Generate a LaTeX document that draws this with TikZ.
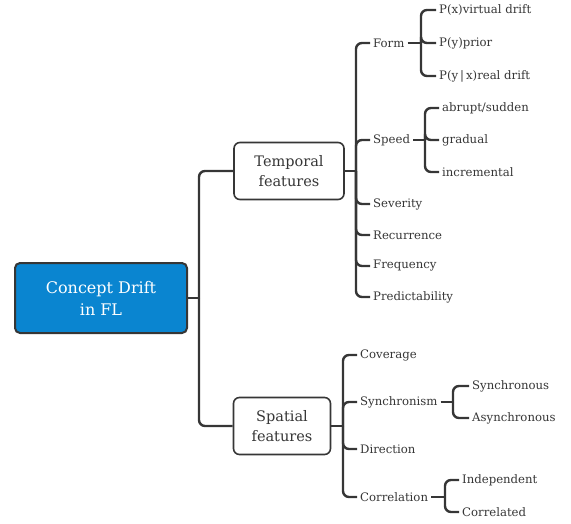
\documentclass[tikz,border=0pt]{standalone}
\usepackage{fontspec}
\setmainfont{DejaVu Serif}
\definecolor{linec}{HTML}{363636}
\definecolor{rootblue}{HTML}{0A85D0}
\tikzset{
  conn/.style={draw=linec, line width=2.4pt, rounded corners=6pt},
  rootbox/.style={draw=linec, line width=2pt, fill=rootblue, rounded corners=5pt, minimum width=172pt, minimum height=70pt, align=center, text=white, font=\fontsize{16}{22}\selectfont},
  subbox/.style={draw=linec, line width=1.6pt, fill=white, rounded corners=6pt, minimum height=57pt, align=center, text=linec, font=\fontsize{14.5}{20}\selectfont},
  leaf/.style={anchor=west, inner sep=3pt, text=linec, font=\fontsize{11.7}{13}\selectfont},
}
\begin{document}
\begin{tikzpicture}[x=1pt,y=-1pt]
\useasboundingbox (0,0) rectangle (571,523);
% boxes
\node[rootbox] (root) at (101,298) {Concept Drift\\in FL};
\node[subbox, minimum width=110pt] (temp) at (289,171) {Temporal\\features};
\node[subbox, minimum width=97pt] (spat) at (282,426) {Spatial\\features};
% temporal children
\node[leaf] (form) at (370,43) {Form};
\node[leaf] (speed) at (370,140) {Speed};
\node[leaf] (sev) at (370,204) {Severity};
\node[leaf] (rec) at (370,235) {Recurrence};
\node[leaf] (freq) at (370,266) {Frequency};
\node[leaf] (pred) at (370,297) {Predictability};
% form children
\node[leaf] (px) at (436,10) {P(x)virtual drift};
\node[leaf] (py) at (436,43) {P(y)prior};
\node[leaf] (pyx) at (436,76) {P(y\,|\,x)real drift};
% speed children
\node[leaf] (abr) at (439,108) {abrupt/sudden};
\node[leaf] (grad) at (439,140) {gradual};
\node[leaf] (incr) at (439,172) {incremental};
% spatial children
\node[leaf] (cov) at (357,355) {Coverage};
\node[leaf] (sync) at (357,402) {Synchronism};
\node[leaf] (dir) at (357,449) {Direction};
\node[leaf] (corr) at (357,497) {Correlation};
\node[leaf] (syn) at (469,386) {Synchronous};
\node[leaf] (asyn) at (469,418) {Asynchronous};
\node[leaf] (ind) at (459,480) {Independent};
\node[leaf] (cord) at (459,512) {Correlated};
% bus coordinates
\coordinate (b0) at (199,298);
\coordinate (b1) at (356,171);
\coordinate (b2) at (343,426);
\coordinate (b3) at (421,43);
\coordinate (b4) at (425,140);
\coordinate (b5) at (453,402);
\coordinate (b6) at (445,497);
% connectors
\draw[conn] (root.east) -- (b0);
\foreach \c in {temp,spat} \draw[conn] (b0) |- (\c.west);
\draw[conn] (temp.east) -- (b1);
\foreach \c in {form,speed,sev,rec,freq,pred} \draw[conn] (b1) |- (\c.west);
\draw[conn] (spat.east) -- (b2);
\foreach \c in {cov,sync,dir,corr} \draw[conn] (b2) |- (\c.west);
\draw[conn] (form.east) -- (b3);
\foreach \c in {px,py,pyx} \draw[conn] (b3) |- (\c.west);
\draw[conn] (speed.east) -- (b4);
\foreach \c in {abr,grad,incr} \draw[conn] (b4) |- (\c.west);
\draw[conn] (sync.east) -- (b5);
\foreach \c in {syn,asyn} \draw[conn] (b5) |- (\c.west);
\draw[conn] (corr.east) -- (b6);
\foreach \c in {ind,cord} \draw[conn] (b6) |- (\c.west);
\end{tikzpicture}
\end{document}
